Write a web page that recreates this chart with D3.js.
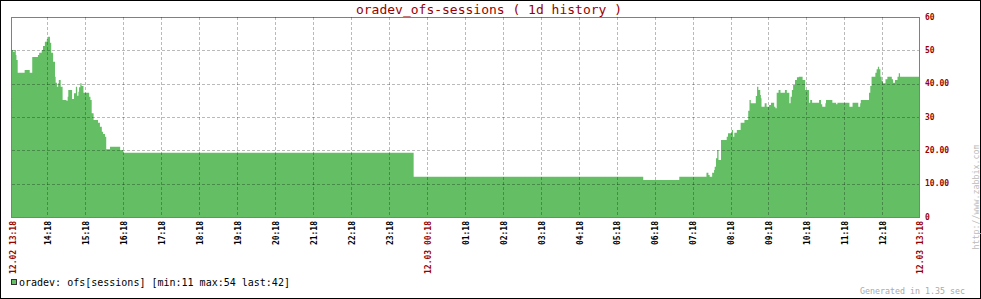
<!DOCTYPE html>
<html>
<head>
<meta charset="utf-8">
<script src="https://cdn.jsdelivr.net/npm/d3@7"></script>
<style>
  body { margin: 0; background: #fff; }
  text { font-family: "DejaVu Sans Mono", "Liberation Mono", monospace; }
</style>
</head>
<body>
<div id="chart-container"></div>
<script>
// data: minutes since the start of the graph, sessions (step samples)
const sampleMinute = [
    0, 2, 4, 6, 7, 9, 20, 28, 32, 41, 43, 47, 49, 52, 55, 57, 60, 62, 65, 68,
    69, 71, 73, 74, 77, 80, 86, 88, 89, 95, 98, 101, 103, 105, 106, 108, 110, 113, 122, 124,
    126, 129, 136, 139, 142, 144, 147, 149, 155, 171, 176, 635, 998, 1055,
    1098, 1101, 1103, 1107, 1110, 1111, 1113, 1115, 1117, 1121, 1130, 1132, 1138, 1140, 1142, 1146,
    1152, 1158, 1164, 1166, 1168, 1176, 1178, 1180, 1183, 1184, 1185, 1190, 1193, 1197, 1200, 1205,
    1207, 1209, 1212, 1215, 1222, 1225, 1229, 1231, 1233, 1235, 1238, 1241, 1244, 1250, 1254,
    1260, 1262, 1265, 1276, 1279, 1281, 1286, 1287, 1297, 1303, 1305, 1324, 1329, 1338, 1341, 1342,
    1355, 1357, 1359, 1365, 1367, 1369, 1371, 1373, 1375, 1377, 1381, 1384, 1391, 1393, 1396, 1400,
    1402, 1404, 1414, 1434
];
const sessions = [
    50.1, 49.5, 50.1, 48.6, 47.1, 43.3, 44.1, 43.3, 48, 48.6, 49.3, 50.1, 51.3, 52.6, 53.3, 54.1, 52.3, 49.3, 46.6, 42.1,
    40.3, 39.1, 40.1, 41.1, 39.1, 35.1, 34.9, 36.1, 38.1, 35.4, 37.1, 39.1, 36.4, 37.6, 38.9, 40.1, 39.3, 37.3, 36.1, 35.1,
    31.1, 29.1, 28.3, 27.1, 25.6, 24.9, 24.1, 20.3, 21.1, 20.1, 19.3, 12.1, 11.1, 12.1,
    13.3, 12.6, 12.1, 13.3, 14.1, 15.1, 17.6, 20.1, 17.1, 23.1, 24.1, 25.1, 26.1, 24.1, 25.3, 26.1,
    28.3, 29.1, 31.9, 35.1, 34.1, 36.3, 39.1, 38.1, 36.6, 35.6, 33.1, 34.1, 33.1, 33.6, 34.3, 33.1,
    32.6, 37.3, 38.1, 37.3, 38.1, 37.3, 34.1, 36.1, 38.1, 39.6, 41.1, 41.9, 42.1, 41.1, 38.1,
    34.3, 35.1, 34.3, 35.1, 33.8, 33.1, 34.1, 35.1, 34.3, 33.8, 34.3, 33.1, 34.3, 33.1, 34.1, 35.1,
    37.3, 39.3, 42.1, 43.3, 44.3, 45.1, 44.3, 42.1, 40.9, 40.1, 41.3, 42.1, 41.3, 40.3, 41.1, 42.1,
    43.1, 42.1, 42.1, 42.1
];

// axis labels
const hourLabels = ["14:18", "15:18", "16:18", "17:18", "18:18", "19:18", "20:18", "21:18", "22:18", "23:18",
    "00:18", "01:18", "02:18", "03:18", "04:18", "05:18", "06:18", "07:18", "08:18", "09:18",
    "10:18", "11:18", "12:18"];
const dayLabels = ["12.02 13:18", "12.03 00:18", "12.03 13:18"];
const yTicks = [0, 10, 20, 30, 40, 50, 60];
const yLabels = ["0", "10.00", "20.00", "30", "40.00", "50", "60"];

const width = 981;
const height = 299;
const plotLeft = 12, plotRight = 919, plotTop = 17, plotBottom = 217;
const green = "#63be64";
const darkRed = "#990000";

const svg = d3.select("#chart-container")
    .append("svg")
    .attr("width", width)
    .attr("height", height);

svg.append("rect")
    .attr("x", 0.5).attr("y", 0.5)
    .attr("width", width - 1).attr("height", height - 1)
    .attr("fill", "#fff").attr("stroke", "#000");

const xScale = d3.scaleLinear().domain([0, 1434]).range([plotLeft, plotRight]);
const yScale = d3.scaleLinear().domain([0, 60]).range([plotBottom, plotTop]);

// first hour mark is 56 minutes after the start
const hourMinute = hourLabels.map((d, i) => 56 + i * 60);

const points = sampleMinute.map((m, i) => ({ m: m, v: sessions[i] }));

const area = d3.area()
    .curve(d3.curveStepAfter)
    .x(d => xScale(d.m))
    .y0(yScale(0))
    .y1(d => yScale(d.v));

svg.append("path")
    .datum(points)
    .attr("fill", green)
    .attr("d", area);

// grid
const grid = svg.append("g")
    .attr("stroke", "#000")
    .attr("stroke-opacity", 0.27)
    .attr("stroke-dasharray", "3,2");

grid.selectAll("line.h")
    .data(yTicks.slice(1, -1))
    .enter()
    .append("line")
    .attr("x1", plotLeft).attr("x2", plotRight)
    .attr("y1", d => Math.round(yScale(d)) + 0.5)
    .attr("y2", d => Math.round(yScale(d)) + 0.5);

grid.selectAll("line.v")
    .data(hourMinute)
    .enter()
    .append("line")
    .attr("y1", plotTop).attr("y2", plotBottom)
    .attr("x1", d => Math.round(xScale(d)) + 0.5)
    .attr("x2", d => Math.round(xScale(d)) + 0.5);

// frame
svg.append("rect")
    .attr("x", plotLeft - 0.5).attr("y", plotTop + 0.5)
    .attr("width", plotRight - plotLeft + 1).attr("height", plotBottom - plotTop)
    .attr("fill", "none")
    .attr("stroke", "#000")
    .attr("stroke-dasharray", "1,1");

// title
svg.append("text")
    .attr("x", 489).attr("y", 14)
    .attr("text-anchor", "middle")
    .attr("fill", darkRed)
    .attr("font-size", 13)
    .text("oradev_ofs-sessions ( 1d history )");

// right axis
svg.selectAll("text.y")
    .data(yTicks)
    .enter()
    .append("text")
    .attr("x", 925)
    .attr("y", d => yScale(d))
    .attr("dy", "0.35em")
    .attr("fill", darkRed)
    .attr("font-size", 8)
    .attr("font-weight", "bold")
    .text((d, i) => yLabels[i]);

// hour labels
svg.selectAll("text.x")
    .data(hourLabels)
    .enter()
    .append("text")
    .attr("transform", (d, i) => "translate(" + (xScale(hourMinute[i]) + 1) + ",221) rotate(-90)")
    .attr("dy", "0.35em")
    .attr("text-anchor", "end")
    .attr("fill", (d, i) => i === 10 ? darkRed : "#000")
    .attr("font-size", 8)
    .attr("font-weight", "bold")
    .text((d, i) => i === 10 ? dayLabels[1] : d);

svg.append("text")
    .attr("transform", "translate(" + (xScale(0) + 1) + ",221) rotate(-90)")
    .attr("dy", "0.35em")
    .attr("text-anchor", "end")
    .attr("fill", darkRed)
    .attr("font-size", 8)
    .attr("font-weight", "bold")
    .text(dayLabels[0]);

svg.append("text")
    .attr("transform", "translate(" + (xScale(1434) + 1) + ",221) rotate(-90)")
    .attr("dy", "0.35em")
    .attr("text-anchor", "end")
    .attr("fill", darkRed)
    .attr("font-size", 8)
    .attr("font-weight", "bold")
    .text(dayLabels[2]);

// legend
svg.append("rect")
    .attr("x", 11.5).attr("y", 279.5)
    .attr("width", 5).attr("height", 5)
    .attr("fill", green)
    .attr("stroke", "#333");

const minV = Math.round(d3.min(sessions));
const maxV = Math.round(d3.max(sessions));
const lastV = Math.round(sessions[sessions.length - 1]);

svg.append("text")
    .attr("x", 19).attr("y", 286)
    .attr("font-size", 10)
    .attr("fill", "#000")
    .text("oradev: ofs[sessions] [min:" + minV + " max:" + maxV + " last:" + lastV + "]");

svg.append("text")
    .attr("x", 965).attr("y", 294)
    .attr("text-anchor", "end")
    .attr("font-size", 8.3)
    .attr("fill", "#aaa")
    .text("Generated in 1.35 sec");

svg.append("text")
    .attr("transform", "translate(976,197) rotate(-90)")
    .attr("dy", "0.35em")
    .attr("text-anchor", "middle")
    .attr("font-size", 8.3)
    .attr("fill", "#bbb")
    .text("http://www.zabbix.com");
</script>
</body>
</html>
